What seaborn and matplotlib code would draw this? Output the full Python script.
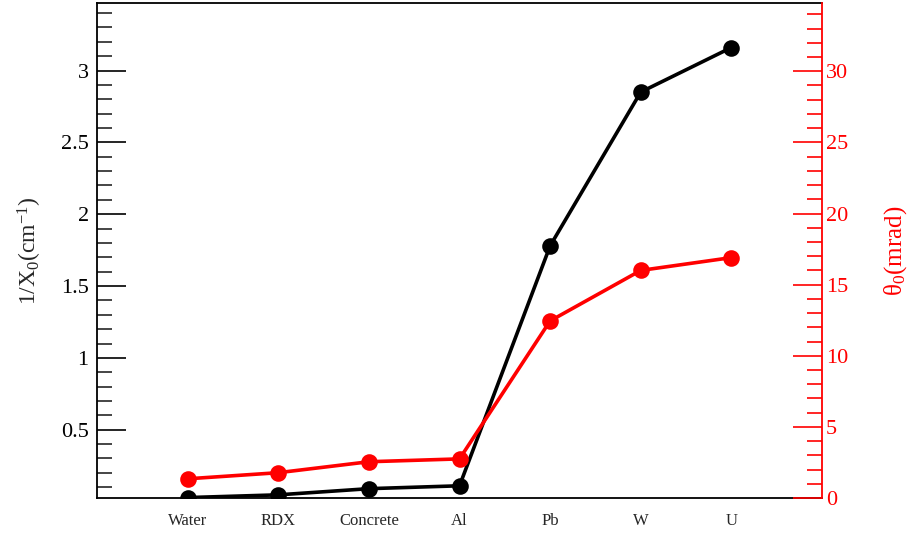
import matplotlib
matplotlib.use("Agg")
import matplotlib.pyplot as plt
import seaborn as sns
from matplotlib.ticker import MultipleLocator

materials = ["Water", "RDX", "Concrete", "Al", "Pb", "W", "U"]
inv_x0 = [0.028, 0.047, 0.090, 0.110, 1.78, 2.85, 3.16]      # 1/X0 in cm^-1
theta0 = [1.35, 1.78, 2.55, 2.75, 12.45, 16.0, 16.9]         # theta0 in mrad

sns.set_theme(style="white")
plt.rcParams["font.family"] = ["Liberation Serif", "DejaVu Serif"]
plt.rcParams["mathtext.fontset"] = "custom"
plt.rcParams["mathtext.rm"] = "Liberation Serif"
plt.rcParams["mathtext.it"] = "Liberation Serif:italic"

fig = plt.figure(figsize=(9.11, 5.34), dpi=100)
ax = fig.add_axes([0.1065, 0.0674, 0.7958, 0.927])
ax2 = ax.twinx()

sns.pointplot(x=materials, y=inv_x0, color="black", markers="o",
              linestyles="-", errorbar=None, markersize=10, linewidth=2.6,
              ax=ax)
sns.pointplot(x=materials, y=theta0, color="#ff0000", markers="o",
              linestyles="-", errorbar=None, markersize=10, linewidth=2.6,
              ax=ax2)

ax.set_xlim(-1, 7)
ax.set_ylim(0.025, 3.47)
ax2.set_ylim(0, 34.8)

# left axis: 1/X0
ax.yaxis.set_minor_locator(MultipleLocator(0.1))
ax.set_yticks([0.5, 1, 1.5, 2, 2.5, 3])
ax.set_yticklabels(["0.5", "1", "1.5", "2", "2.5", "3"])
ax.tick_params(axis="y", which="major", direction="in", length=21, width=1.2,
               labelsize=16, pad=6, left=True, right=False, colors="black")
ax.tick_params(axis="y", which="minor", direction="in", length=11, width=1.2,
               left=True, right=False)
ax.tick_params(axis="x", length=0, labelsize=12, pad=11)
ax.set_xlabel("")
ax.set_ylabel("1/X$_0$(cm$^{-1}$)", fontsize=17, labelpad=12)

# right axis: theta0
ax2.yaxis.set_major_locator(MultipleLocator(5))
ax2.yaxis.set_minor_locator(MultipleLocator(1))
ax2.tick_params(axis="y", which="major", direction="in", length=21, width=1.2,
                labelsize=16, pad=3, colors="#ff0000", right=True, left=False)
ax2.tick_params(axis="y", which="minor", direction="in", length=11, width=1.2,
                colors="#ff0000", right=True, left=False)
ax2.set_ylabel("θ$_0$(mrad)", fontsize=18, color="#ff0000", labelpad=24)

for spine in ax.spines.values():
    spine.set_color("black")
    spine.set_linewidth(1.3)
for name, spine in ax2.spines.items():
    spine.set_linewidth(1.3)
    spine.set_color("#ff0000" if name == "right" else "black")
ax2.spines["left"].set_visible(False)
ax2.spines["bottom"].set_visible(False)
ax2.spines["top"].set_visible(False)
ax.spines["right"].set_visible(False)

fig.savefig("out.png", dpi=100)
